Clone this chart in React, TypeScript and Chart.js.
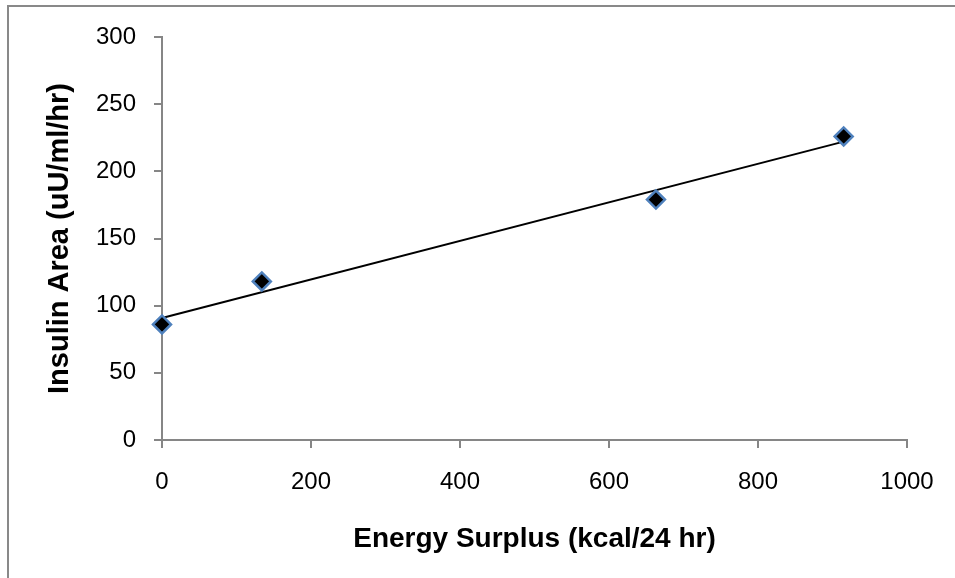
import React, { useEffect, useRef } from 'react';
import { Chart, registerables } from 'chart.js';

Chart.register(...registerables);

// ---- data ----
const energySurplus = [0, 134, 663, 915];
const insulinArea = [86, 118, 179, 226];
const xTickValues = [0, 200, 400, 600, 800, 1000];
const yTickValues = [0, 50, 100, 150, 200, 250, 300];
const xTitle = 'Energy Surplus (kcal/24 hr)';
const yTitle = 'Insulin Area (uU/ml/hr)';

function linearFit(xs: number[], ys: number[]) {
  const n = xs.length;
  const mx = xs.reduce((a, b) => a + b, 0) / n;
  const my = ys.reduce((a, b) => a + b, 0) / n;
  let sxx = 0;
  let sxy = 0;
  for (let i = 0; i < n; i++) {
    sxx += (xs[i] - mx) * (xs[i] - mx);
    sxy += (xs[i] - mx) * (ys[i] - my);
  }
  const slope = sxy / sxx;
  return { slope, intercept: my - slope * mx };
}

const AXIS_GRAY = '#868686';
const FONT = '"Liberation Sans", Arial, sans-serif';

export default function App() {
  const ref = useRef<HTMLCanvasElement | null>(null);

  useEffect(() => {
    if (!ref.current) return;
    const fit = linearFit(energySurplus, insulinArea);
    const x0 = Math.min(...energySurplus);
    const x1 = Math.max(...energySurplus);
    const trend = [
      { x: x0, y: fit.intercept + fit.slope * x0 },
      { x: x1, y: fit.intercept + fit.slope * x1 },
    ];

    const zeroPad = (s: any) => {
      s.paddingTop = 0;
      s.paddingBottom = 0;
      s.paddingLeft = 0;
      s.paddingRight = 0;
    };

    const chart = new Chart(ref.current, {
      type: 'scatter',
      data: {
        datasets: [
          {
            label: 'Insulin Area',
            data: energySurplus.map((x, i) => ({ x, y: insulinArea[i] })),
            pointStyle: 'rectRot',
            pointRadius: 9,
            backgroundColor: '#000000',
            borderColor: '#4F81BD',
            borderWidth: 2.5,
            showLine: false,
            clip: false,
            order: 0,
          } as any,
          {
            label: 'Trend',
            data: trend,
            showLine: true,
            borderColor: '#000000',
            borderWidth: 2,
            pointRadius: 0,
            fill: false,
            clip: false,
            order: 1,
          } as any,
        ],
      },
      options: {
        responsive: false,
        animation: false,
        layout: { padding: { top: 37, right: 48, left: 0, bottom: 0 } },
        plugins: {
          legend: { display: false },
          tooltip: { enabled: false },
        },
        scales: {
          x: {
            type: 'linear',
            min: 0,
            max: 1000,
            afterBuildTicks: (s: any) => {
              s.ticks = xTickValues.map((v) => ({ value: v }));
            },
            afterFit: (s: any) => {
              s.height = 138;
              zeroPad(s);
            },
            ticks: {
              font: { family: FONT, size: 24 },
              color: '#000000',
              padding: 20,
              maxRotation: 0,
              callback: (v: any) => String(v),
            },
            grid: {
              drawOnChartArea: false,
              drawTicks: true,
              tickLength: 8,
              color: AXIS_GRAY,
              lineWidth: 2,
            },
            border: { display: true, color: AXIS_GRAY, width: 2 },
            title: {
              display: true,
              text: xTitle,
              color: '#000000',
              font: { family: FONT, size: 28, weight: 'bold' },
              padding: { top: 0, bottom: 22 },
            },
          },
          y: {
            type: 'linear',
            min: 0,
            max: 300,
            afterBuildTicks: (s: any) => {
              s.ticks = yTickValues.map((v) => ({ value: v }));
            },
            afterFit: (s: any) => {
              s.width = 162;
              zeroPad(s);
            },
            ticks: {
              font: { family: FONT, size: 24 },
              color: '#000000',
              padding: 18,
              callback: (v: any) => String(v),
            },
            grid: {
              drawOnChartArea: false,
              drawTicks: true,
              tickLength: 8,
              color: AXIS_GRAY,
              lineWidth: 2,
            },
            border: { display: true, color: AXIS_GRAY, width: 2 },
            title: {
              display: true,
              text: yTitle,
              color: '#000000',
              font: { family: FONT, size: 29, weight: 'bold' },
              padding: { top: 43, bottom: 0 },
            },
          },
        },
      } as any,
    });
    return () => chart.destroy();
  }, []);

  return (
    <div
      style={{
        position: 'absolute',
        left: 0,
        top: 0,
        width: 955,
        height: 578,
        overflow: 'hidden',
        background: '#ffffff',
      }}
    >
      <div
        style={{
          position: 'absolute',
          left: 7,
          top: 5,
          width: 1200,
          height: 1200,
          border: '2px solid #898989',
          boxSizing: 'border-box',
        }}
      />
      <canvas
        ref={ref}
        width={955}
        height={578}
        style={{ position: 'absolute', left: 0, top: 0, width: 955, height: 578 }}
      />
    </div>
  );
}
